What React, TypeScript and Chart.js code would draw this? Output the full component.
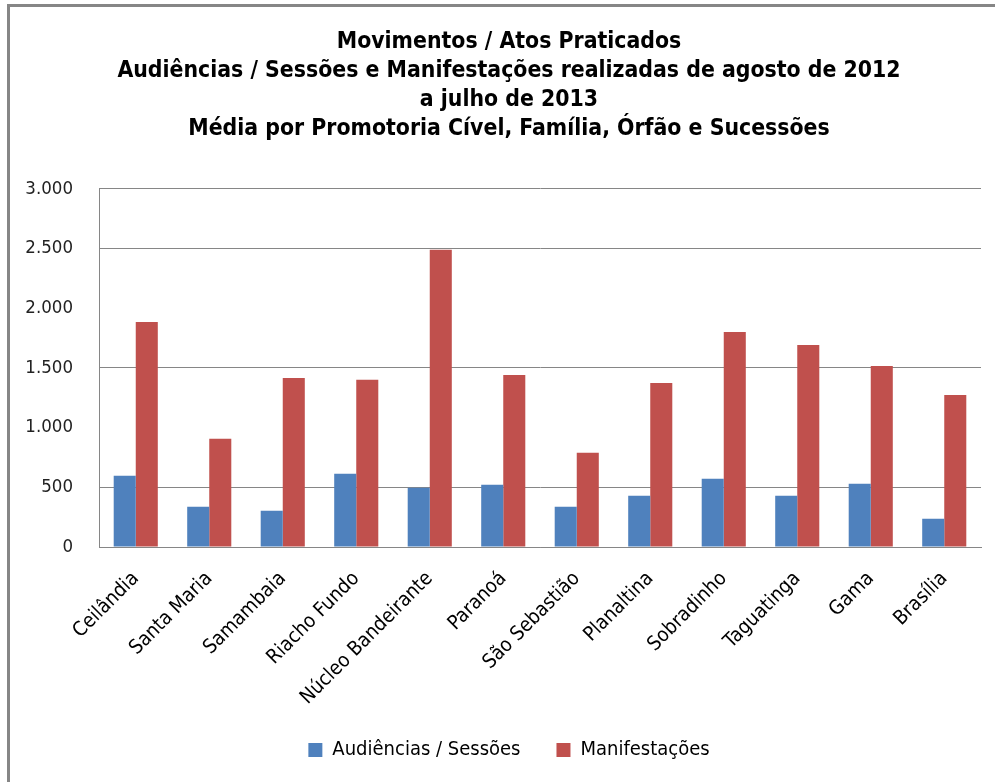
import React, { useEffect, useRef } from "react";
import { Chart, registerables } from "chart.js";

Chart.register(...registerables);

const categories = [
  "Ceilândia",
  "Santa Maria",
  "Samambaia",
  "Riacho Fundo",
  "Núcleo Bandeirante",
  "Paranoá",
  "São Sebastião",
  "Planaltina",
  "Sobradinho",
  "Taguatinga",
  "Gama",
  "Brasília",
];

const audiencias = [597, 337, 304, 613, 496, 521, 337, 429, 571, 429, 530, 237];
const manifestacoes = [1885, 906, 1416, 1400, 2490, 1441, 789, 1374, 1801, 1692, 1517, 1274];

const titleLines = [
  "Movimentos / Atos Praticados",
  "Audiências / Sessões e Manifestações realizadas de agosto de 2012",
  "a julho de 2013",
  "Média por Promotoria Cível, Família, Órfão e Sucessões",
];

const seriesNames = ["Audiências / Sessões", "Manifestações"];
const hiddenGridValues = [1000, 2000];

const FONT = "'Liberation Sans Narrow', 'DejaVu Sans Condensed', 'Liberation Sans', sans-serif";
const GRAY = "#868686";

const framePlugin = {
  id: "frame",
  afterLayout(chart: any) {
    // let the y tick labels extend past the scale's left edge without being clipped
    if (chart.scales.y) chart.scales.y.left = 0;
  },
  beforeDraw(chart: any) {
    const { ctx, width } = chart;
    ctx.save();
    ctx.fillStyle = "#ffffff";
    ctx.fillRect(0, 0, width, chart.height);
    ctx.strokeStyle = GRAY;
    ctx.lineWidth = 3;
    ctx.beginPath();
    ctx.moveTo(8.5, chart.height);
    ctx.lineTo(8.5, 5.5);
    ctx.lineTo(width, 5.5);
    ctx.stroke();
    ctx.restore();
  },
};

export default function App() {
  const ref = useRef<HTMLCanvasElement | null>(null);
  useEffect(() => {
    if (!ref.current) return;
    const chart = new Chart(ref.current, {
      type: "bar",
      data: {
        labels: categories,
        datasets: [
          {
            label: seriesNames[0],
            data: audiencias,
            backgroundColor: "#4F81BD",
            categoryPercentage: 0.6,
            barPercentage: 1.0,
          },
          {
            label: seriesNames[1],
            data: manifestacoes,
            backgroundColor: "#C0504D",
            categoryPercentage: 0.6,
            barPercentage: 1.0,
          },
        ],
      },
      options: {
        animation: false,
        responsive: false,
        maintainAspectRatio: false,
        layout: { padding: { top: 0, left: 37, right: 14, bottom: 12 } },
        plugins: {
          tooltip: { enabled: false },
          title: {
            display: true,
            text: titleLines,
            color: "#000",
            font: { family: FONT, size: 22.8, weight: "bold", lineHeight: 1.27 },
            padding: { top: 28, bottom: 45 },
          },
          legend: {
            position: "bottom",
            labels: {
              boxWidth: 14,
              boxHeight: 14,
              color: "#000",
              font: { family: FONT, size: 20 },
              padding: 36,
            },
          },
        },
        scales: {
          x: {
            grid: { display: false, drawTicks: false },
            border: { display: true, color: GRAY, width: 1 },
            ticks: {
              color: "#000",
              font: { family: FONT, size: 20 },
              maxRotation: 45,
              minRotation: 45,
              padding: 20,
              autoSkip: false,
            },
            afterFit(scale: any) {
              scale.height = 157;
            },
          },
          y: {
            min: 0,
            max: 3000,
            ticks: {
              stepSize: 500,
              color: "#222",
              font: { family: FONT, size: 18.5 },
              padding: 26,
              callback: (v: any) => Number(v).toLocaleString("pt-BR"),
            },
            grid: {
              drawTicks: false,
              color: (c: any) =>
                c.tick && hiddenGridValues.includes(c.tick.value) ? "rgba(0,0,0,0)" : GRAY,
              lineWidth: 1,
            },
            border: { display: true, color: GRAY, width: 1 },
            afterFit(scale: any) {
              scale.width = 62;
            },
          },
        },
      },
      plugins: [framePlugin],
    });
    return () => chart.destroy();
  }, []);
  return (
    <div style={{ position: "fixed", left: 0, top: 0, width: 995, height: 782, background: "#fff" }}>
      <canvas ref={ref} width={995} height={782} style={{ display: "block" }} />
    </div>
  );
}
